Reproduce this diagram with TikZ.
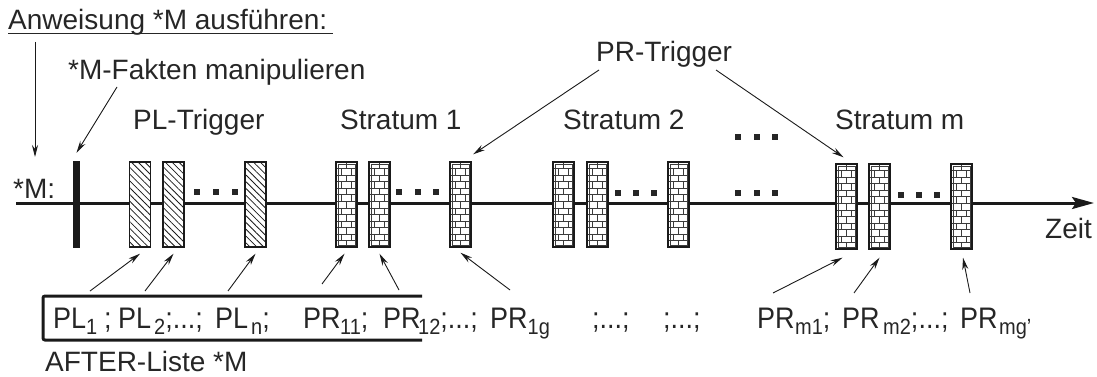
\documentclass[tikz,border=0pt]{standalone}
\usepackage{fontspec}
\setmainfont{Liberation Sans}
\usetikzlibrary{arrows.meta,patterns.meta}
\definecolor{txt}{HTML}{262626}
\definecolor{ln}{HTML}{1A1A1A}
\newcommand\sbs[1]{\raisebox{-5.5pt}{\fontsize{20}{20}\selectfont #1}}
\newcommand\seg[2]{\makebox[#1pt][l]{#2}}
\newcommand\tall[1]{\scalebox{1}[1.1]{#1}}
\begin{document}
\begin{tikzpicture}[x=1pt,y=-1pt,
  lbl/.style={font=\fontsize{28}{30}\selectfont, text=txt, inner sep=0pt, anchor=base west},
  lst/.style={font=\fontsize{27}{30}\selectfont, text=txt, inner sep=0pt, anchor=base west},
  arr/.style={draw=ln, line width=0.9pt, -{Stealth[length=12pt,width=6pt]}},
  dotsq/.style={fill=txt},
  hatchbox/.style={draw=ln, line width=1.4pt, minimum width=21pt, minimum height=85pt, inner sep=0pt,
    fill=white, postaction={pattern={Lines[angle=-45,distance=4.8pt,line width=0.8pt]}, pattern color=ln}},
  brickline/.style={draw=ln!85, line width=0.5pt},
  brickbox/.style={draw=ln, line width=1.4pt, minimum width=21pt, minimum height=85pt, inner sep=0pt,
    fill=white,
    path picture={
      \foreach \i in {1,...,12}{
        \draw[brickline] ([yshift=-\i*6.54pt]path picture bounding box.north west) -- ++(30pt,0pt);
      }
      \foreach \i in {0,...,12}{
        \ifodd\i
          \draw[brickline] ([xshift=5.5pt,yshift=-\i*6.54pt]path picture bounding box.north west) -- ++(0pt,-6.54pt);
          \draw[brickline] ([xshift=15.5pt,yshift=-\i*6.54pt]path picture bounding box.north west) -- ++(0pt,-6.54pt);
        \else
          \draw[brickline] ([xshift=10.5pt,yshift=-\i*6.54pt]path picture bounding box.north west) -- ++(0pt,-6.54pt);
        \fi
      }
      \draw[brickline] ([xshift=2.2pt,yshift=-2.2pt]path picture bounding box.north west) rectangle ([xshift=-2.2pt,yshift=2.2pt]path picture bounding box.south east);
    }}
]
\useasboundingbox (0,0) rectangle (1097,377);

% title
\node[lbl] (title) at (8,30) {Anweisung *M ausführen:};
\draw[txt, line width=1pt] (8,34) -- (333,34);
\coordinate (tstart) at (35,42);

% labels
\node[lbl] (fakt) at (68,80) {*M-Fakten manipulieren};
\node[lbl] (plt) at (133,130) {PL-Trigger};
\node[lbl] (st1) at (340,130) {Stratum 1};
\node[lbl] (st2) at (563,130) {Stratum 2};
\node[lbl] (stm) at (835,130) {Stratum m};
\node[lbl] (prt) at (596,62) {PR-Trigger};
\node[lbl] (mlab) at (13,198) {*M:};
\node[lbl] (zeit) at (1045,238) {Zeit};

% timeline
\coordinate (tl0) at (16,203);
\coordinate (tl1) at (1094,203);
\draw[ln, line width=3pt, -{Stealth[length=22pt,width=12pt,inset=4pt]}] (tl0) -- (tl1);

% bar
\node[fill=ln, minimum width=7pt, minimum height=87pt, inner sep=0pt] (bar) at (76.5,204.5) {};

% PL boxes
\node[hatchbox] (pl1) at (140,204.5) {};
\node[hatchbox] (pl2) at (173.5,204.5) {};
\node[hatchbox] (pln) at (255.5,204.5) {};

% PR boxes
\node[brickbox] (s1a) at (346.5,204.5) {};
\node[brickbox] (s1b) at (379.5,204.5) {};
\node[brickbox] (s1c) at (460.5,204.5) {};
\node[brickbox] (s2a) at (563.5,204.5) {};
\node[brickbox] (s2b) at (597.5,204.5) {};
\node[brickbox] (s2c) at (678.5,204.5) {};
\node[brickbox] (sma) at (846.5,206.5) {};
\node[brickbox] (smb) at (879.5,206.5) {};
\node[brickbox] (smc) at (961.5,206.5) {};

% dots
\foreach \x/\y in {197/192,216/192,235/192, 399/192,418/192,436/192,
                   618/193,636/193,654/193, 738/193,757/193,775/193,
                   738/137,757/137,775/137, 901/195,919/195,937/195}
  \fill[dotsq] (\x-3.2,\y-3.2) rectangle (\x+3.2,\y+3.2);

% top arrows
\draw[arr] (tstart) -- (35,157);
\draw[arr] (117,87) -- ([yshift=8pt]bar.north);
\draw[arr] (599,70) -- ([xshift=1.5pt,yshift=7pt]s1c.north east);
\draw[arr] (716,70) -- ([xshift=-3pt,yshift=6pt]sma.north);

% list
\draw[ln, line width=3pt, rounded corners=2pt] (422,296) -- (43,296) -- (43,340) -- (422,340);
\node[lst] (lpl) at (53,328) {\tall{\seg{51}{PL\sbs{1}}\seg{14}{;}\seg{36}{PL}\seg{61}{\sbs{2};...;}\seg{36}{PL}\sbs{n};}};
\node[lst] (lpr1) at (303,328) {\tall{\seg{37}{PR}\seg{43}{\sbs{11};}\seg{35}{PR}\seg{72}{\sbs{12};...;}PR\sbs{1g}}};
\node[lst] (ld1) at (592,328) {\tall{;...;}};
\node[lst] (ld2) at (663,328) {\tall{;...;}};
\node[lst] (lprm) at (757,328) {\tall{\seg{38}{PR}\seg{47}{\sbs{m1};}\seg{41}{PR}\seg{77}{\sbs{m2};...;}\seg{39}{PR}\sbs{mg'}}};
\node[lbl] (after) at (45,371) {AFTER-Liste *M};

% bottom arrows
\coordinate (a1) at (90,291);
\coordinate (a2) at (145,291);
\coordinate (a3) at (228,291);
\coordinate (a4) at (322,284);
\coordinate (a5) at (399,290);
\coordinate (a6) at (510,290);
\coordinate (a7) at (773,293);
\coordinate (a8) at (854,293);
\coordinate (a9) at (970,293);
\draw[arr] (a1) -- ([yshift=-6pt]pl1.south);
\draw[arr] (a2) -- ([yshift=-6pt]pl2.south);
\draw[arr] (a3) -- ([yshift=-6pt]pln.south);
\draw[arr] (a4) -- ([xshift=-2pt,yshift=-6pt]s1a.south);
\draw[arr] (a5) -- ([yshift=-6pt]s1b.south);
\draw[arr] (a6) -- ([yshift=-5pt]s1c.south);
\draw[arr] (a7) -- ([xshift=-4pt,yshift=-8pt]sma.south);
\draw[arr] (a8) -- ([yshift=-8pt]smb.south);
\draw[arr] (a9) -- ([xshift=1.5pt,yshift=-8pt]smc.south);
\end{tikzpicture}
\end{document}
